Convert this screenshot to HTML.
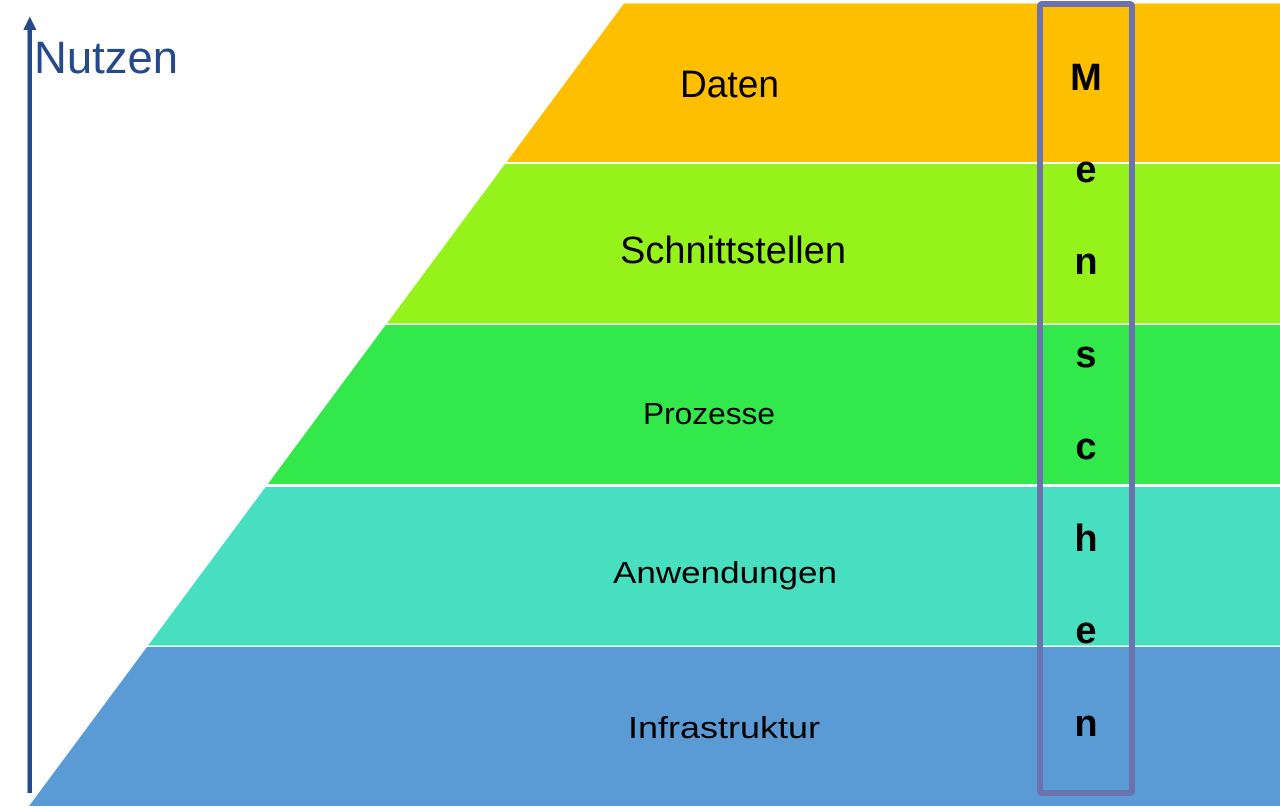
<!DOCTYPE html>
<html>
<head>
<meta charset="utf-8">
<style>
html,body{margin:0;padding:0;background:#fff;}
svg{display:block;}
</style>
</head>
<body>
<svg width="1280" height="809" viewBox="0 0 1280 809" xmlns="http://www.w3.org/2000/svg">
  <rect x="0" y="0" width="1280" height="809" fill="#ffffff"/>
  <!-- bands -->
  <polygon points="624,3.5 1280,3.5 1280,162 506.5,162" fill="#fdbf00"/>
  <polygon points="505,164 1280,164 1280,323.5 386.8,323.5" fill="#95f31b"/>
  <polygon points="385.6,325 1280,325 1280,484 267.8,484" fill="#33e84a"/>
  <polygon points="265.5,487 1280,487 1280,645.5 148,645.5" fill="#48dfc0"/>
  <polygon points="146.9,647 1280,647 1280,806 29,806" fill="#5b9bd5"/>

  <!-- axis arrow -->
  <rect x="27.5" y="28" width="4.5" height="765" fill="#254a8c"/>
  <polygon points="29.8,16.5 23.3,30 36.5,30" fill="#254a8c"/>
  <text x="34" y="73" font-family="Liberation Sans, sans-serif" font-size="45" fill="#254a8c" textLength="144" lengthAdjust="spacingAndGlyphs">Nutzen</text>

  <!-- labels -->
  <g font-family="Liberation Sans, sans-serif" fill="#000">
    <text x="680" y="97" font-size="38" textLength="99" lengthAdjust="spacingAndGlyphs">Daten</text>
    <text x="620" y="263" font-size="38" textLength="226" lengthAdjust="spacingAndGlyphs">Schnittstellen</text>
    <text x="643" y="424" font-size="31" textLength="132" lengthAdjust="spacingAndGlyphs">Prozesse</text>
    <text x="613" y="583" font-size="31" textLength="224" lengthAdjust="spacingAndGlyphs">Anwendungen</text>
    <text x="628" y="738" font-size="31" textLength="192" lengthAdjust="spacingAndGlyphs">Infrastruktur</text>
  </g>

  <!-- Menschen box -->
  <rect x="1040" y="4" width="92" height="789" rx="2" ry="2" fill="none" stroke="#6b72ad" stroke-width="6"/>
  <g font-family="Liberation Sans, sans-serif" font-weight="bold" font-size="38" fill="#000" text-anchor="middle">
    <text x="1086" y="90">M</text>
    <text x="1086" y="182">e</text>
    <text x="1086" y="274">n</text>
    <text x="1086" y="367">s</text>
    <text x="1086" y="459">c</text>
    <text x="1086" y="551">h</text>
    <text x="1086" y="643">e</text>
    <text x="1086" y="736">n</text>
  </g>
</svg>
</body>
</html>
